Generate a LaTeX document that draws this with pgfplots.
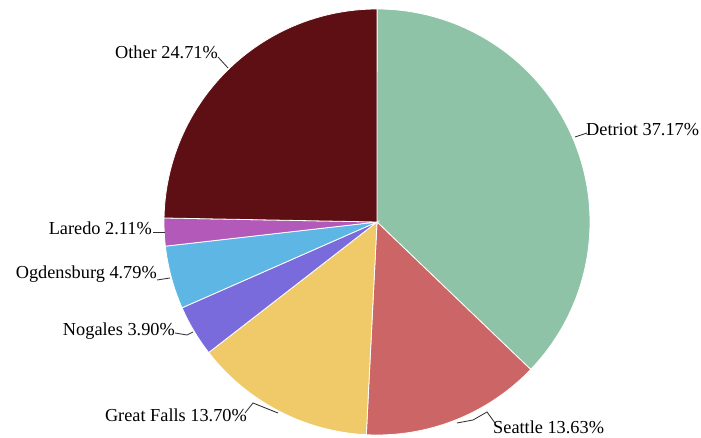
\documentclass[border=0pt]{standalone}
\usepackage{pgfplots}
\usepackage{pgfplotstable}
\pgfplotsset{compat=1.18}
\usepackage{fontspec}
\setmainfont{Liberation Serif}

\definecolor{cDet}{HTML}{8EC3A7}
\definecolor{cSea}{HTML}{CC6666}
\definecolor{cGrf}{HTML}{F0CA68}
\definecolor{cNog}{HTML}{7A6BDD}
\definecolor{cOgd}{HTML}{5DB6E4}
\definecolor{cLar}{HTML}{B359B9}
\definecolor{cOth}{HTML}{5E0F13}

\newcommand\labelfont{\fontsize{18.3}{20}\selectfont}

% shares in percent, clockwise from 12 o'clock
\pgfplotstableread{
pct   col
37.17 cDet
13.63 cSea
13.70 cGrf
3.90  cNog
4.79  cOgd
2.11  cLar
24.71 cOth
}\piedata

\begin{document}
\begin{tikzpicture}[lbl/.style={font=\labelfont, inner sep=0pt},
    leader/.style={draw=black!80, line width=0.85pt, mark=none}]
\begin{axis}[
    x=1pt, y=1pt,
    xmin=-377, xmax=324,
    ymin=-216, ymax=222,
    hide axis,
    clip=false,
]
\path (axis cs:-377,-216) (axis cs:324,222);

\pgfmathsetmacro\cum{0}
\pgfplotstablegetrowsof{\piedata}
\pgfmathtruncatemacro\last{\pgfplotsretval-1}
\pgfplotsforeachungrouped \i in {0,...,\last}{%
  \pgfplotstablegetelem{\i}{pct}\of\piedata\let\slicepct\pgfplotsretval
  \pgfplotstablegetelem{\i}{col}\of\piedata\let\slicecol\pgfplotsretval
  \pgfmathsetmacro\aa{90-3.6*\cum}
  \pgfmathsetmacro\bb{90-3.6*(\cum+\slicepct)}
  \edef\slice{\noexpand\addplot[fill=\slicecol, draw=white, line width=0.8pt,
      domain=\bb:\aa, samples=90]
    ({213*cos(x)},{213*sin(x)}) -- (axis cs:0,0) -- cycle;}
  \slice
  \pgfmathsetmacro\cum{\cum+\slicepct}
}

% leader lines
\addplot[leader] coordinates {(198,85) (210,89)};
\addplot[leader] coordinates {(80,-201) (96,-198) (110,-190) (118,-201)};
\addplot[leader] coordinates {(-132,-191) (-124,-181) (-99,-191)};
\addplot[leader] coordinates {(-202,-111) (-190,-113) (-184,-110)};
\addplot[leader] coordinates {(-220,-58) (-207,-56)};
\addplot[leader] coordinates {(-224,-10) (-212,-10)};
\addplot[leader] coordinates {(-159,165) (-149,154)};

% labels
\node[lbl, anchor=west] at (axis cs:209,92) {Detriot 37.17\%};
\node[lbl, anchor=west] at (axis cs:116,-205) {Seattle 13.63\%};
\node[lbl, anchor=east] at (axis cs:-130,-193) {Great Falls 13.70\%};
\node[lbl, anchor=east] at (axis cs:-202,-109) {Nogales 3.90\%};
\node[lbl, anchor=east] at (axis cs:-220,-52) {Ogdensburg 4.79\%};
\node[lbl, anchor=east] at (axis cs:-225,-6) {Laredo 2.11\%};
\node[lbl, anchor=east] at (axis cs:-159,170) {Other 24.71\%};
\end{axis}
\end{tikzpicture}
\end{document}
